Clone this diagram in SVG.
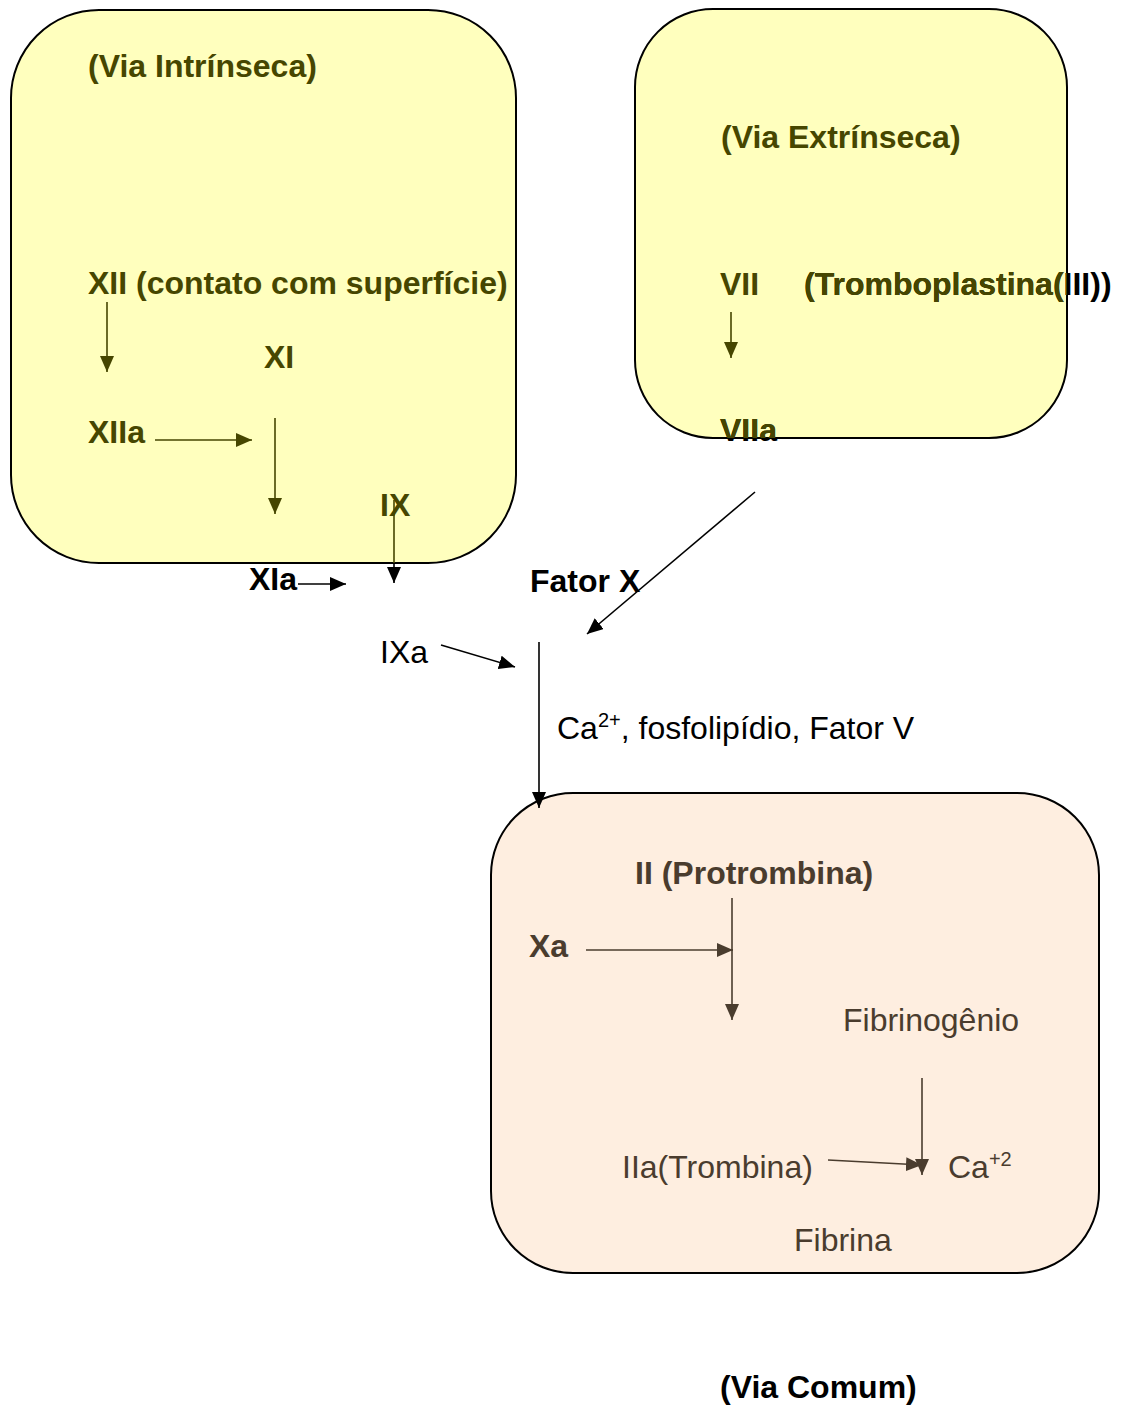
<svg xmlns="http://www.w3.org/2000/svg" width="1122" height="1406" viewBox="0 0 1122 1406">
<style>
  text { font-family: "Liberation Sans", Arial, sans-serif; font-size: 32px; }
  .b { font-weight: bold; }
  .olive { fill: #464600; }
  .brown { fill: #4A3C2E; }
  .blk { fill: #000000; }
  .box { stroke: #000; stroke-width: 2; }
  .yel { fill: #FFFFBE; }
  .pch { fill: #FEEEE0; }
  .lo { stroke: #464600; stroke-width: 1.6; fill: none; }
  .lk { stroke: #000; stroke-width: 1.6; fill: none; }
  .lb { stroke: #4A3C2E; stroke-width: 1.6; fill: none; }
</style>
<defs>
  <marker id="ao" markerUnits="userSpaceOnUse" markerWidth="16" markerHeight="14" refX="16" refY="7" orient="auto">
    <path d="M0,0 L16,7 L0,14 z" fill="#464600"/>
  </marker>
  <marker id="ak" markerUnits="userSpaceOnUse" markerWidth="16" markerHeight="14" refX="16" refY="7" orient="auto">
    <path d="M0,0 L16,7 L0,14 z" fill="#000"/>
  </marker>
  <marker id="ab" markerUnits="userSpaceOnUse" markerWidth="16" markerHeight="14" refX="16" refY="7" orient="auto">
    <path d="M0,0 L16,7 L0,14 z" fill="#4A3C2E"/>
  </marker>
  <clipPath id="clip2">
    <rect x="635" y="9" width="432" height="429" rx="78" ry="78"/>
  </clipPath>
</defs>
<rect width="1122" height="1406" fill="#fff"/>

<g id="via-intrinseca">
  <rect class="box yel" x="11" y="10" width="505" height="553" rx="88" ry="88"/>
  <text class="b olive" x="88" y="77">(Via Intrínseca)</text>
</g>
<g id="via-extrinseca">
  <rect class="box yel" x="635" y="9" width="432" height="429" rx="78" ry="78"/>
  <text class="b olive" x="721" y="148">(Via Extrínseca)</text>
</g>
<g id="via-comum">
  <rect class="box pch" x="491" y="793" width="608" height="480" rx="82" ry="82"/>
  <text class="b blk" x="720" y="1398">(Via Comum)</text>
</g>

<g id="n-xii"><text class="b olive" x="88" y="294">XII (contato com superfície)</text></g>
<g id="n-xi"><text class="b olive" x="264" y="368">XI</text></g>
<g id="n-xiia"><text class="b olive" x="88" y="443">XIIa</text></g>
<g id="n-ix"><text class="b olive" x="380" y="516">IX</text></g>
<g id="n-xia"><text class="b blk" x="249" y="590">XIa</text></g>
<g id="n-fatorx"><text class="b blk" x="530" y="592">Fator X</text></g>
<g id="n-ixa"><text class="blk" x="380" y="663">IXa</text></g>
<g id="n-vii"><text class="b olive" x="720" y="295">VII</text></g>
<g id="n-tromboplastina">
  <text class="b blk" x="804" y="295">(Tromboplastina(III))</text>
  <text class="b olive" x="804" y="295" clip-path="url(#clip2)">(Tromboplastina(III))</text>
</g>
<g id="n-viia">
  <text class="b blk" x="720" y="441">VIIa</text>
  <text class="b olive" x="720" y="441" clip-path="url(#clip2)">VIIa</text>
</g>
<g id="n-cofatores">
  <text class="blk" x="557" y="739">Ca<tspan font-size="20" dy="-12">2+</tspan><tspan dy="12">, fosfolipídio, Fator V</tspan></text>
</g>
<g id="n-ii"><text class="b brown" x="635" y="884">II (Protrombina)</text></g>
<g id="n-xa"><text class="b brown" x="529" y="957">Xa</text></g>
<g id="n-fibrinogenio"><text class="brown" x="843" y="1031">Fibrinogênio</text></g>
<g id="n-iia"><text class="brown" x="622" y="1178">IIa(Trombina)</text></g>
<g id="n-ca"><text class="brown" x="948" y="1178">Ca<tspan font-size="20" dy="-12">+2</tspan></text></g>
<g id="n-fibrina"><text class="brown" x="794" y="1251">Fibrina</text></g>

<g id="connectors">
  <line class="lo" x1="107" y1="302" x2="107" y2="372" marker-end="url(#ao)"/>
  <line class="lo" x1="155" y1="440" x2="252" y2="440" marker-end="url(#ao)"/>
  <line class="lo" x1="275" y1="418" x2="275" y2="514" marker-end="url(#ao)"/>
  <line class="lo" x1="394" y1="500" x2="394" y2="563"/>
  <line class="lk" x1="394" y1="563" x2="394" y2="583" marker-end="url(#ak)"/>
  <line class="lo" x1="731" y1="312" x2="731" y2="358" marker-end="url(#ao)"/>
  <line class="lk" x1="298" y1="584" x2="346" y2="584" marker-end="url(#ak)"/>
  <line class="lk" x1="441" y1="645" x2="515" y2="667" marker-end="url(#ak)"/>
  <line class="lk" x1="755" y1="492" x2="587" y2="634" marker-end="url(#ak)"/>
  <line class="lk" x1="539" y1="642" x2="539" y2="808" marker-end="url(#ak)"/>
  <line class="lb" x1="586" y1="950" x2="733" y2="950" marker-end="url(#ab)"/>
  <line class="lb" x1="732" y1="898" x2="732" y2="1020" marker-end="url(#ab)"/>
  <line class="lb" x1="922" y1="1078" x2="922" y2="1175" marker-end="url(#ab)"/>
  <line class="lb" x1="828" y1="1160" x2="922" y2="1165" marker-end="url(#ab)"/>
</g>
</svg>
